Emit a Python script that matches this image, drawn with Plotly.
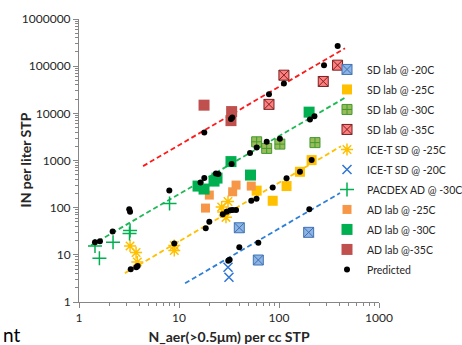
import plotly.graph_objects as go

# ---------------- data ----------------
sd20_x = [40.1, 62.1, 198]
sd20_y = [37.5, 7.76, 30]

sd25_x = [59.8, 86.5, 119, 162, 212]
sd25_y = [230, 140, 287, 576, 1020]

sd30_x = [59.8, 75.3, 102, 229]
sd30_y = [2490, 1805, 2225, 2395]

sd35_x = [79.4, 112, 277, 385]
sd35_y = [15500, 64400, 47400, 105000]

icet25_x = [3.24, 3.72, 3.83, 8.97, 8.97, 26.7, 30.9, 29.5, 27.7]
icet25_y = [15.4, 11.2, 7.04, 15.7, 12.3, 103, 135, 62.3, 80.7]

icet20_x = [30.9, 31.6]
icet20_y = [5.43, 3.34]

pacdex_x = [1.445, 1.60, 2.19, 3.24, 3.20, 8.04]
pacdex_y = [15.4, 8.43, 18.4, 32.7, 28.3, 122]

ad25_x = [20.1, 18.4, 34.4, 37.2, 52.8]
ad25_y = [185, 98, 217, 301, 287]

ad30_x = [15.5, 17.8, 22.4, 24.0, 33.1, 51.9, 200]
ad30_y = [287, 248, 366, 424, 948, 491, 10600]

ad35_x = [17.8, 33.6, 33.1]
ad35_y = [14900, 10900, 7000]

pred_x = [1.445, 1.62, 2.17, 3.18, 3.24, 8.0, 3.29, 3.74, 3.86, 8.97,
          16.4, 17.9, 23.4, 24.7, 20.1, 18.5, 27.4, 30.0, 32.6, 34.4,
          37.2, 52.8, 59.6, 86.5, 40.1, 62.1, 31.1, 32.1, 79.4, 17.9,
          33.1, 34.1, 75.3, 59.8, 51.3, 33.6, 204, 226, 102, 212,
          162, 119, 201, 386, 282, 112]
pred_y = [18.4, 19.3, 31.2, 92, 81.9, 230, 4.93, 5.43, 5.79, 17.4,
          340, 424, 533, 515, 50.3, 36.4, 72.1, 81.9, 87.7, 89,
          89, 140, 154, 269, 14.4, 18.0, 7.5, 7.87, 25500, 3940,
          7540, 8190, 2490, 1877, 1435, 839, 7430, 8720, 2880, 1020,
          576, 418, 92, 269000, 105000, 43000]

# trend lines (end points)
line35_x = [4.37, 457]
line35_y = [760, 240000]
line30_x = [1.32, 468]
line30_y = [16, 22000]
line25_x = [2.88, 417]
line25_y = [4.1, 2000]
line20_x = [11.5, 407]
line20_y = [2.5, 204]

x_title = "N_aer(>0.5\u03bcm) per cc STP"
y_title = "IN per liter STP"

FONT = "Lato"

fig = go.Figure()

for lx, ly, col in [(line35_x, line35_y, "#FF1A1A"),
                    (line30_x, line30_y, "#1DB954"),
                    (line25_x, line25_y, "#FFC000"),
                    (line20_x, line20_y, "#2E7FD8")]:
    fig.add_trace(go.Scatter(x=lx, y=ly, mode="lines", showlegend=False,
                             line=dict(color=col, width=1.8, dash="5px,3px"),
                             hoverinfo="skip"))

series = [
    ("SD lab @ -20C", sd20_x, sd20_y, dict(symbol="square-x", size=10, color="#8EB4E3",
                                             line=dict(color="#3F72B5", width=1))),
    ("SD lab @ -25C", sd25_x, sd25_y, dict(symbol="square", size=10, color="#FFC000",
                                             line=dict(width=0))),
    ("SD lab @ -30C", sd30_x, sd30_y, dict(symbol="square-cross", size=10, color="#9BBB59",
                                             line=dict(color="#3E9A2E", width=1))),
    ("SD lab @ -35C", sd35_x, sd35_y, dict(symbol="square-x", size=10, color="#FF8080",
                                             line=dict(color="#7A2020", width=1))),
    ("ICE-T SD @ -25C", icet25_x, icet25_y, dict(symbol="asterisk-open", size=10,
                                                   color="#FFC000",
                                                   line=dict(color="#FFC000", width=1.5))),
    ("ICE-T SD @ -20C", icet20_x, icet20_y, dict(symbol="x-thin-open", size=9,
                                                   color="#2E75D6",
                                                   line=dict(color="#2E75D6", width=1.5))),
    ("PACDEX AD @ -30C", pacdex_x, pacdex_y, dict(symbol="cross-thin-open", size=10,
                                                    color="#00B050",
                                                    line=dict(color="#00B050", width=1.5))),
    ("AD lab @ -25C", ad25_x, ad25_y, dict(symbol="square", size=9, color="#F79646",
                                            line=dict(width=0))),
    ("AD lab @ -30C", ad30_x, ad30_y, dict(symbol="square", size=11, color="#00B050",
                                            line=dict(width=0))),
    ("AD lab @-35C", ad35_x, ad35_y, dict(symbol="square", size=11, color="#C0504D",
                                           line=dict(width=0))),
    ("Predicted", pred_x, pred_y, dict(symbol="circle", size=6, color="black",
                                        line=dict(width=0))),
]

for name, xs, ys, mk in series:
    fig.add_trace(go.Scatter(x=xs, y=ys, mode="markers", name=name, marker=mk,
                             legendgroup=name, cliponaxis=False))

axis_common = dict(
    type="log", showgrid=False, zeroline=False, showline=True,
    linecolor="#868686", linewidth=1, ticks="outside", ticklen=5,
    tickcolor="#868686", dtick=1, tickformat="d",
    tickfont=dict(family=FONT, size=12, color="#262626"),
    minor=dict(ticks="outside", ticklen=3, tickcolor="#868686", showgrid=False),
)

fig.update_xaxes(range=[0, 3], **axis_common,
                 title=dict(text="<b>" + x_title + "</b>", standoff=10,
                            font=dict(family=FONT, size=14, color="#262626")))
fig.update_yaxes(range=[0, 6], **axis_common)

W, H = 462, 345
L, T, PW, PH = 79, 19, 300, 283

fig.update_layout(
    width=W, height=H,
    margin=dict(l=L, r=W - L - PW, t=T, b=H - T - PH, autoexpand=False),
    paper_bgcolor="white", plot_bgcolor="white",
    showlegend=True,
    legend=dict(x=(327 - L) / PW, y=0.873, xanchor="left", yanchor="top",
                font=dict(family=FONT, size=10.5, color="#262626"),
                bgcolor="rgba(0,0,0,0)", tracegroupgap=1, itemwidth=30,
                borderwidth=0, traceorder="grouped"),
    annotations=[
        dict(text="<b>" + y_title + "</b>", xref="paper", yref="paper",
             x=(25 - L) / PW, y=0.5, textangle=-90, showarrow=False,
             xanchor="center", yanchor="middle",
             font=dict(family=FONT, size=14, color="#262626")),
        dict(text="nt", xref="paper", yref="paper",
             x=(1 - L) / PW, y=(T + PH - 334) / PH,
             xanchor="left", yanchor="middle", showarrow=False,
             font=dict(family=FONT, size=19, color="black")),
    ],
)

fig.write_html("out.html", config={"displayModeBar": False},
               post_script="document.body.style.margin='0px';")
